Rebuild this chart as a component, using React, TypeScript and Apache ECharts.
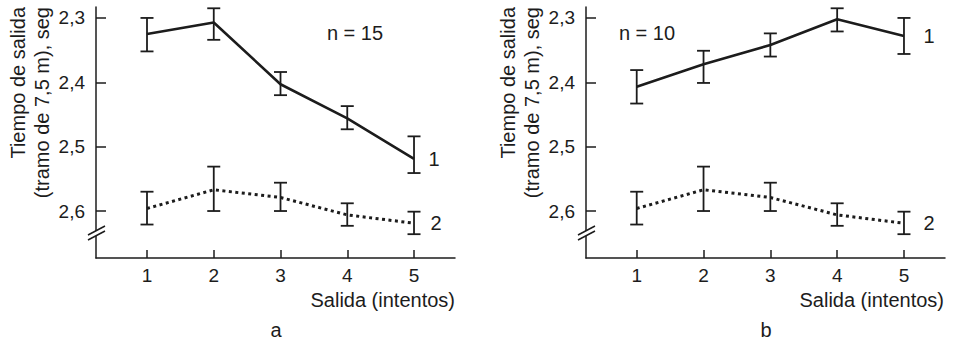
import React, { useEffect, useRef } from "react";
import * as echarts from "echarts";

// Attempts (x)
const attempts = [1, 2, 3, 4, 5];
// y tick values (time, s)
const yTicks = [2.3, 2.4, 2.5, 2.6];

// Panel a, curve 1 (n = 15)
const aMean1 = [2.325, 2.307, 2.403, 2.456, 2.519];
const aLow1 = [2.3, 2.285, 2.384, 2.437, 2.484];
const aHigh1 = [2.352, 2.334, 2.42, 2.473, 2.541];
// Panel a, curve 2
const aMean2 = [2.596, 2.567, 2.579, 2.606, 2.619];
const aLow2 = [2.57, 2.531, 2.556, 2.588, 2.601];
const aHigh2 = [2.621, 2.6, 2.6, 2.623, 2.636];

// Panel b, curve 1 (n = 10)
const bMean1 = [2.407, 2.372, 2.342, 2.302, 2.328];
const bLow1 = [2.381, 2.351, 2.324, 2.285, 2.3];
const bHigh1 = [2.433, 2.401, 2.36, 2.321, 2.356];
// Panel b, curve 2
const bMean2 = [2.596, 2.567, 2.579, 2.606, 2.619];
const bLow2 = [2.57, 2.531, 2.556, 2.588, 2.601];
const bHigh2 = [2.621, 2.6, 2.6, 2.623, 2.636];

const FONT = "'Liberation Sans', Arial, Helvetica, sans-serif";
const INK = "#1c1c1c";

const errRender = (params: any, api: any) => {
  const x = api.value(0);
  const p1 = api.coord([x, api.value(1)]);
  const p2 = api.coord([x, api.value(2)]);
  const w = 6.5;
  const st = { stroke: INK, lineWidth: 1.8 };
  return {
    type: "group",
    children: [
      { type: "line", shape: { x1: p1[0], y1: p1[1], x2: p2[0], y2: p2[1] }, style: st },
      { type: "line", shape: { x1: p1[0] - w, y1: p1[1], x2: p1[0] + w, y2: p1[1] }, style: st },
      { type: "line", shape: { x1: p2[0] - w, y1: p2[1], x2: p2[0] + w, y2: p2[1] }, style: st },
    ],
  };
};

const lineData = (mean: number[], tag: string, dist: number) =>
  attempts.map((x, i) =>
    i === attempts.length - 1
      ? {
          value: [x, mean[i]],
          label: {
            show: true,
            formatter: tag,
            position: "right",
            distance: dist,
            fontSize: 20,
            fontFamily: FONT,
            color: INK,
          },
        }
      : { value: [x, mean[i]] }
  );

const errData = (lo: number[], hi: number[]) => attempts.map((x, i) => [x, lo[i], hi[i]]);

export default function App() {
  const ref = useRef<HTMLDivElement>(null);
  useEffect(() => {
    if (!ref.current) return;
    const chart = echarts.init(ref.current, undefined, { renderer: "svg" });

    const xAxisCfg = (gridIndex: number, min: number) => ({
      type: "value",
      gridIndex,
      min,
      max: 5.614,
      axisLine: { show: true, lineStyle: { color: INK, width: 1.5 } },
      axisTick: {
        show: true,
        inside: true,
        length: 8,
        customValues: attempts,
        lineStyle: { color: INK, width: 1.5 },
      },
      axisLabel: {
        show: true,
        customValues: attempts,
        margin: 8,
        fontSize: 19,
        fontFamily: FONT,
        color: INK,
        formatter: (v: number) => String(Math.round(v)),
      },
      splitLine: { show: false },
    });

    const yAxisCfg = (gridIndex: number) => ({
      type: "value",
      gridIndex,
      inverse: true,
      min: 2.283,
      max: 2.673,
      axisLine: { show: true, lineStyle: { color: INK, width: 1.5 } },
      axisTick: {
        show: true,
        inside: true,
        length: 10,
        customValues: yTicks,
        lineStyle: { color: INK, width: 1.5 },
      },
      axisLabel: {
        show: true,
        customValues: yTicks,
        margin: 11,
        fontSize: 19,
        fontFamily: FONT,
        color: INK,
        formatter: (v: number) => v.toFixed(1).replace(".", ","),
      },
      splitLine: { show: false },
    });

    const solid = { color: INK, width: 2.6 };
    const dotted = { color: INK, width: 3, type: [3, 3.5], cap: "butt" };

    const lineSeries = (idx: number, mean: number[], tag: string, dist: number, ls: any) => ({
      type: "line",
      xAxisIndex: idx,
      yAxisIndex: idx,
      data: lineData(mean, tag, dist),
      symbol: "circle",
      symbolSize: 1,
      showSymbol: true,
      itemStyle: { color: "transparent" },
      lineStyle: ls,
      label: { show: false },
      z: 3,
    });

    const errSeries = (idx: number, lo: number[], hi: number[]) => ({
      type: "custom",
      xAxisIndex: idx,
      yAxisIndex: idx,
      renderItem: errRender,
      data: errData(lo, hi),
      encode: { x: 0, y: [1, 2] },
      z: 4,
    });

    const textStyle = (text: string, align: string) => ({
      text,
      fontSize: 20,
      fontFamily: FONT,
      fill: INK,
      align,
      verticalAlign: "middle",
    });

    const breakMark = (ax: number) => [
      {
        type: "rect",
        shape: { x: ax - 3, y: 231, width: 6, height: 5 },
        style: { fill: "#fff" },
        z: 20,
      },
      {
        type: "line",
        shape: { x1: ax - 8, y1: 235, x2: ax + 9, y2: 226 },
        style: { stroke: INK, lineWidth: 1.5 },
        z: 21,
      },
      {
        type: "line",
        shape: { x1: ax - 8, y1: 240, x2: ax + 9, y2: 231 },
        style: { stroke: INK, lineWidth: 1.5 },
        z: 21,
      },
    ];

    chart.setOption({
      animation: false,
      backgroundColor: "#ffffff",
      grid: [
        { left: 96, right: 498, top: 7, bottom: 84 },
        { left: 586, right: 8, top: 7, bottom: 84 },
      ],
      xAxis: [xAxisCfg(0, 0.236), xAxisCfg(1, 0.241)],
      yAxis: [yAxisCfg(0), yAxisCfg(1)],
      series: [
        lineSeries(0, aMean1, "1", 14, solid),
        lineSeries(0, aMean2, "2", 16, dotted),
        errSeries(0, aLow1, aHigh1),
        errSeries(0, aLow2, aHigh2),
        lineSeries(1, bMean1, "1", 19, solid),
        lineSeries(1, bMean2, "2", 19, dotted),
        errSeries(1, bLow1, bHigh1),
        errSeries(1, bLow2, bHigh2),
      ],
      graphic: [
        ...breakMark(96),
        ...breakMark(586),
        { type: "text", x: 18, y: 7, rotation: Math.PI / 2, style: textStyle("Tiempo de salida", "right") },
        { type: "text", x: 42, y: 7, rotation: Math.PI / 2, style: textStyle("(tramo de 7,5 m), seg", "right") },
        { type: "text", x: 508, y: 7, rotation: Math.PI / 2, style: textStyle("Tiempo de salida", "right") },
        { type: "text", x: 532, y: 7, rotation: Math.PI / 2, style: textStyle("(tramo de 7,5 m), seg", "right") },
        { type: "text", x: 355, y: 33, style: textStyle("n = 15", "center") },
        { type: "text", x: 647, y: 33, style: textStyle("n = 10", "center") },
        { type: "text", x: 455, y: 300, style: textStyle("Salida (intentos)", "right") },
        { type: "text", x: 944, y: 300, style: textStyle("Salida (intentos)", "right") },
        { type: "text", x: 276, y: 330, style: textStyle("a", "center") },
        { type: "text", x: 766, y: 330, style: textStyle("b", "center") },
      ],
    });

    return () => chart.dispose();
  }, []);

  return (
    <div
      ref={ref}
      style={{ position: "fixed", left: 0, top: 0, width: 953, height: 342, background: "#fff" }}
    />
  );
}
